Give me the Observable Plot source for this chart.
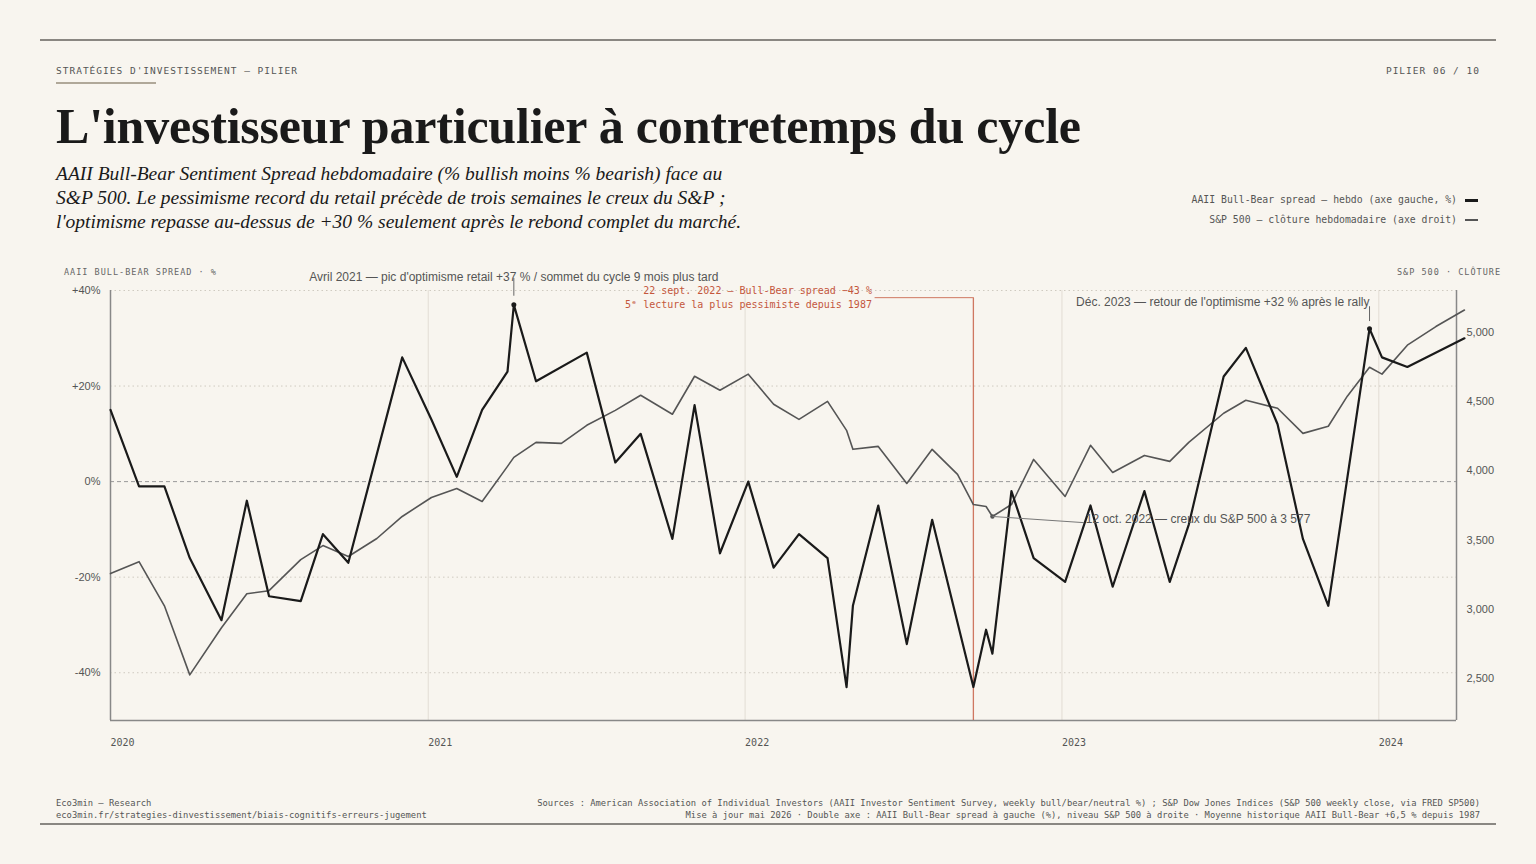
<!DOCTYPE html>
<html><head><meta charset="utf-8">
<script src="https://cdn.jsdelivr.net/npm/d3@7"></script>
<script src="https://cdn.jsdelivr.net/npm/@observablehq/plot@0.6"></script>
<style>
body{margin:0;background:#f8f5ef;width:1536px;height:864px;position:relative;overflow:hidden;font-family:"DejaVu Sans Mono",monospace;color:#1a1a1a}
.a{position:absolute;white-space:nowrap}
.mono{font-family:"DejaVu Sans Mono",monospace;font-size:9.5px;letter-spacing:1px;color:#555}
.rule{position:absolute;left:40px;width:1456px;height:2px;background:#8a8782}
#title{left:56px;top:97px;font-family:"Liberation Serif","DejaVu Serif",serif;font-weight:bold;font-size:50px;letter-spacing:-0.2px}
#sub{left:56px;top:162px;font-family:"Liberation Serif",serif;font-style:italic;font-size:19.5px;line-height:24px}
.leg{right:58px;font-size:9.8px;color:#555}
.leg span{display:inline-block;width:13px;vertical-align:middle;margin-left:8px}
.foot{font-size:8.8px;color:#555;line-height:12px}
#chart{position:absolute;left:0;top:262px}
</style></head><body>
<div class="rule" style="top:39px"></div>
<div class="rule" style="top:823px"></div>
<div class="a mono" style="left:56px;top:65px">STRATÉGIES D'INVESTISSEMENT — PILIER</div>
<div class="a" style="left:56px;top:82px;width:100px;height:2px;background:#b0a899"></div>
<div class="a mono" style="right:56px;top:65px">PILIER 06 / 10</div>
<div class="a" id="title">L'investisseur particulier à contretemps du cycle</div>
<div class="a" id="sub">AAII Bull-Bear Sentiment Spread hebdomadaire (% bullish moins % bearish) face au<br>S&amp;P 500. Le pessimisme record du retail précède de trois semaines le creux du S&amp;P ;<br>l'optimisme repasse au-dessus de +30 % seulement après le rebond complet du marché.</div>
<div class="a leg" style="top:194px">AAII Bull-Bear spread — hebdo (axe gauche, %)<span style="height:3px;background:#1a1a1a"></span></div>
<div class="a leg" style="top:214px">S&amp;P 500 — clôture hebdomadaire (axe droit)<span style="height:2px;background:#555"></span></div>
<div class="a foot" style="left:56px;top:797px">Eco3min — Research<br>eco3min.fr/strategies-dinvestissement/biais-cognitifs-erreurs-jugement</div>
<div class="a foot" style="right:56px;top:797px;text-align:right">Sources : American Association of Individual Investors (AAII Investor Sentiment Survey, weekly bull/bear/neutral %) ; S&amp;P Dow Jones Indices (S&amp;P 500 weekly close, via FRED SP500)<br>Mise à jour mai 2026 · Double axe : AAII Bull-Bear spread à gauche (%), niveau S&amp;P 500 à droite · Moyenne historique AAII Bull-Bear +6,5 % depuis 1987</div>
<div id="chart"></div>
<script>
// fractional year, value
const spreadT=[2020.0,2020.09,2020.17,2020.25,2020.35,2020.43,2020.50,2020.60,2020.67,2020.75,2020.92,2021.01,2021.09,2021.17,2021.25,2021.27,2021.34,2021.50,2021.59,2021.67,2021.77,2021.84,2021.92,2022.01,2022.09,2022.17,2022.26,2022.32,2022.34,2022.42,2022.51,2022.59,2022.72,2022.76,2022.78,2022.84,2022.91,2023.01,2023.09,2023.16,2023.26,2023.34,2023.40,2023.51,2023.58,2023.68,2023.76,2023.84,2023.97,2024.01,2024.09,2024.27];
const spreadV=[15,-1,-1,-16,-29,-4,-24,-25,-11,-17,26,13,1,15,23,37,21,27,4,10,-12,16,-15,0,-18,-11,-16,-43,-26,-5,-34,-8,-43,-31,-36,-2,-16,-21,-5,-22,-2,-21,-9,22,28,12,-12,-26,32,26,24,30];
const spxT=[2020.0,2020.09,2020.17,2020.25,2020.35,2020.43,2020.50,2020.60,2020.67,2020.75,2020.84,2020.92,2021.01,2021.09,2021.17,2021.25,2021.27,2021.34,2021.42,2021.50,2021.59,2021.67,2021.77,2021.84,2021.92,2022.01,2022.09,2022.17,2022.26,2022.32,2022.34,2022.42,2022.51,2022.59,2022.67,2022.72,2022.76,2022.78,2022.84,2022.91,2023.01,2023.09,2023.16,2023.26,2023.34,2023.40,2023.51,2023.58,2023.68,2023.76,2023.84,2023.90,2023.97,2024.01,2024.09,2024.18,2024.27];
const spxV=[3259,3345,3027,2529,2869,3114,3136,3360,3461,3382,3512,3671,3808,3873,3779,4032,4097,4205,4198,4328,4436,4545,4408,4682,4581,4697,4480,4371,4501,4292,4155,4176,3909,4155,3974,3757,3743,3671,3757,4082,3815,4184,3988,4111,4068,4205,4415,4509,4451,4270,4321,4538,4747,4697,4906,5040,5159];
const yearTicks=[2020,2021,2022,2023,2024];
const leftTicks=[-40,-20,0,20,40];
const rightTicks=[2500,3000,3500,4000,4500,5000];
const toDate=f=>{const y=Math.floor(f);return new Date(Date.UTC(y,0,1)+(f-y)*365.25*864e5)};
const sLo=2200,sHi=5300,yLo=-50,yHi=40;
const conv=s=>yLo+(s-sLo)/(sHi-sLo)*(yHi-yLo);
const spread=spreadT.map((t,i)=>({d:toDate(t),v:spreadV[i]}));
const spx=spxT.map((t,i)=>({d:toDate(t),v:conv(spxV[i])}));
const fmtK=n=>n.toLocaleString("en-US");
const dTrough=toDate(2022.72), dLow=toDate(2022.78), dPeak=toDate(2021.27), dDec=toDate(2023.97);
const ann="Liberation Sans, Arial, sans-serif";
const red="#c4573d";
const p=Plot.plot({
 width:1536,height:500,marginLeft:110,marginRight:80,marginTop:28,marginBottom:42,
 style:{background:"transparent",fontFamily:"DejaVu Sans Mono, monospace",fontSize:"10px",color:"#555"},
 x:{type:"utc",domain:[toDate(2020),toDate(2024.245)]},
 y:{domain:[yLo,yHi]},
 marks:[
  Plot.ruleX(yearTicks.slice(1).map(y=>toDate(y)),{stroke:"#e2ddd4",strokeWidth:1}),
  Plot.ruleY([-40,-20,20,40],{stroke:"#cfcac0",strokeDasharray:"1.5,3"}),
  Plot.ruleY([0],{stroke:"#999",strokeDasharray:"4,3"}),
  Plot.ruleX([toDate(2020)],{stroke:"#888",strokeWidth:1.5}),
  Plot.ruleX([toDate(2024.245)],{stroke:"#888",strokeWidth:1.5}),
  Plot.ruleY([yLo],{stroke:"#888",strokeWidth:1.5}),
  Plot.axisY(leftTicks,{anchor:"left",tickSize:0,tickPadding:10,tickFormat:d=>(d>0?"+":"")+d+"%",label:null,fontFamily:ann,fontSize:11}),
  Plot.axisY(rightTicks.map(conv),{anchor:"right",tickSize:0,tickPadding:10,tickFormat:d=>fmtK(Math.round((d-yLo)/(yHi-yLo)*(sHi-sLo)+sLo)),label:null,fontFamily:ann,fontSize:11}),
  Plot.axisX(yearTicks.map(toDate),{tickSize:0,tickPadding:18,textAnchor:"start",tickFormat:d=>String(d.getUTCFullYear()),label:null,fontSize:10}),
  Plot.ruleX([dTrough],{y1:yLo,y2:38.5,stroke:red,strokeOpacity:0.8,strokeWidth:1.3}),
  Plot.line(spx,{x:"d",y:"v",stroke:"#555",strokeWidth:1.6}),
  Plot.line(spread,{x:"d",y:"v",stroke:"#1a1a1a",strokeWidth:2.2}),
  Plot.dot([spread[15],spread[48]],{x:"d",y:"v",r:2.5,fill:"#1a1a1a"}),
  Plot.dot([spx[37]],{x:"d",y:"v",r:2.2,fill:"#555"}),
  Plot.ruleX([dPeak],{y1:38.8,y2:42.5,stroke:"#666"}),
  Plot.ruleX([dDec],{y1:33.5,y2:36.6,stroke:"#666"}),
  Plot.link([{x1:dLow,y1:spx[37].v,x2:toDate(2023.07),y2:spx[37].v-1.3}],{x1:"x1",y1:"y1",x2:"x2",y2:"y2",stroke:"#777"}),
  Plot.text(["Avril 2021 — pic d'optimisme retail +37 % / sommet du cycle 9 mois plus tard"],{x:dPeak,y:42.5,dy:-1,fontFamily:ann,fontSize:12,fill:"#555"}),
  Plot.text(["Déc. 2023 — retour de l'optimisme +32 % après le rally"],{x:dDec,y:36.6,dy:-5,textAnchor:"end",fontFamily:ann,fontSize:12,fill:"#555"}),
  Plot.text(["12 oct. 2022 — creux du S&P 500 à 3 577"],{x:toDate(2023.075),y:spx[37].v-0.5,textAnchor:"start",fontFamily:ann,fontSize:12,fill:"#555"}),
  Plot.ruleY([38.5],{x1:toDate(2022.41),x2:dTrough,stroke:red,strokeOpacity:0.8,strokeWidth:1}),
  Plot.text(["22 sept. 2022 — Bull-Bear spread −43 %\n5ᵉ lecture la plus pessimiste depuis 1987"],{x:toDate(2022.4),y:38.5,dy:-1,textAnchor:"end",lineHeight:1.4,fontSize:10,fill:red})
 ]
});
document.getElementById("chart").append(p);
const s=d3.select(p);
s.append("text").attr("x",64).attr("y",13).attr("text-anchor","start").attr("fill","#666").attr("font-size",8.5).attr("letter-spacing",1).text("AAII BULL-BEAR SPREAD · %");
s.append("text").attr("x",1501).attr("y",13).attr("text-anchor","end").attr("fill","#666").attr("font-size",8.5).attr("letter-spacing",1).text("S&P 500 · CLÔTURE");
</script></body></html>
